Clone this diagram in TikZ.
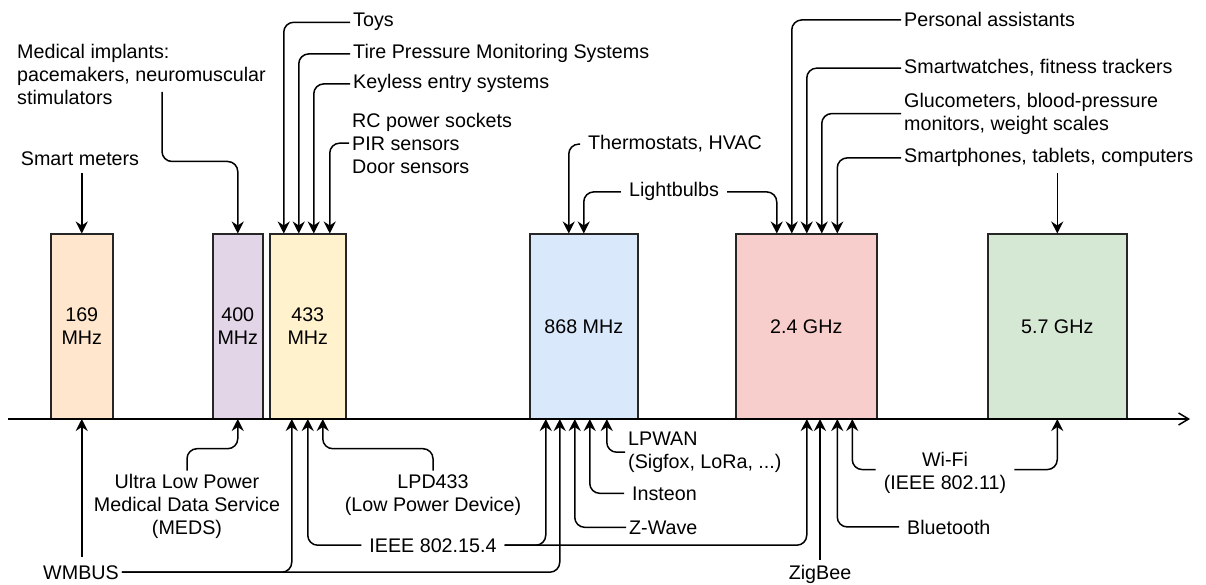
\documentclass[tikz,border=0pt]{standalone}
\usepackage{fontspec}
\setmainfont{Liberation Sans}
\usetikzlibrary{arrows.meta}
\definecolor{corange}{HTML}{FFE6CC}
\definecolor{cpurple}{HTML}{E1D5E7}
\definecolor{cyellow}{HTML}{FFF2CC}
\definecolor{cblue}{HTML}{DAE8FC}
\definecolor{cred}{HTML}{F8CECC}
\definecolor{cgreen}{HTML}{D5E8D4}
\begin{document}
\begin{tikzpicture}[x=1pt,y=-1pt,
  every node/.style={font=\fontsize{19.7}{23}\selectfont},
  lbl/.style={inner xsep=3pt, inner ysep=0pt},
  lblw/.style={inner xsep=8pt, inner ysep=0pt},
  band/.style={draw=black!85, line width=1.5pt, align=center, inner sep=1pt, anchor=south west, minimum height=184pt},
  arr/.style={line width=1.5pt, rounded corners=10pt, -{Stealth[length=12pt,width=12pt,inset=4pt]}},
  axisline/.style={line width=1.5pt, -{Straight Barb[length=10pt,width=12pt]}}
]
\useasboundingbox (0,0) rectangle (1206,585);

% frequency bands
\node[band, fill=corange, minimum width=62pt]  (b169) at (50,419)  {169\\MHz};
\node[band, fill=cpurple, minimum width=50pt]  (b400) at (212,419) {400\\MHz};
\node[band, fill=cyellow, minimum width=76pt]  (b433) at (269,419) {433\\MHz};
\node[band, fill=cblue,   minimum width=108pt] (b868) at (529,419) {868 MHz};
\node[band, fill=cred,    minimum width=141pt] (b24)  at (735,419) {2.4 GHz};
\node[band, fill=cgreen,  minimum width=139pt] (b57)  at (987,419) {5.7 GHz};

% axis
\coordinate (axL) at (8,419);
\coordinate (axR) at (1190,419);
\draw[axisline] (axL) -- (axR);

% top labels
\node[lbl, anchor=base, inner ysep=7pt] (sm) at (80,166) {Smart meters};
\node[lbl, anchor=north west, align=left] (med) at (14,43.7) {Medical implants:\\pacemakers, neuromuscular\\stimulators};
\coordinate (medout) at (162,92);
\node[lbl, anchor=base west] (toys) at (350,27) {Toys};
\node[lbl, anchor=base west] (tpms) at (350,59) {Tire Pressure Monitoring Systems};
\node[lbl, anchor=base west] (key) at (350,89) {Keyless entry systems};
\node[lbl, anchor=north west, align=left] (rc) at (349,112.7) {RC power sockets\\PIR sensors\\Door sensors};
\node[lblw, anchor=base west] (th) at (580,150) {Thermostats, HVAC};
\node[lblw, anchor=base] (lb) at (674,197) {Lightbulbs};
\node[lbl, anchor=base west] (pa) at (901,27) {Personal assistants};
\node[lbl, anchor=base west] (sw) at (901,74) {Smartwatches, fitness trackers};
\node[lbl, anchor=north west, align=left] (gl) at (901,92.7) {Glucometers, blood-pressure\\monitors, weight scales};
\node[lbl, anchor=base west, inner ysep=6pt] (sp) at (901,163) {Smartphones, tablets, computers};

% bottom labels
\node[lbl, anchor=north, align=center, inner ysep=3pt] (meds) at (187,470.7) {Ultra Low Power\\Medical Data Service\\(MEDS)};
\node[lbl, anchor=north, align=center, inner ysep=4pt] (lpd) at (433,470.7) {LPD433\\(Low Power Device)};
\node[lblw, anchor=base] (ieee) at (433,552) {IEEE 802.15.4};
\node[lbl, anchor=base, inner ysep=8pt] (wm) at (81,579) {WMBUS};
\node[lbl, anchor=north west, align=left] (lpwan) at (625,431.7) {LPWAN\\(Sigfox, LoRa, ...)};
\node[lblw, anchor=base west] (ins) at (624,500) {Insteon};
\node[lbl, anchor=base west] (zw) at (626,534) {Z-Wave};
\node[lbl, anchor=base, inner ysep=4.6pt] (zb) at (820,579) {ZigBee};
\node[lblw, anchor=base west] (bt) at (899,534) {Bluetooth};
\node[lblw, anchor=north, align=center] (wifi) at (945,451.7) {Wi-Fi\\(IEEE 802.11)};

% top connectors
\draw[arr] (sm.south -| b169.north) -- (b169.north);
\draw[arr] (medout) |- ([yshift=72pt]b400.north) -- (b400.north);
\draw[arr] (toys.west) -| ([xshift=-24pt]b433.north);
\draw[arr] (tpms.west) -| ([xshift=-9pt]b433.north);
\draw[arr] (key.west) -| ([xshift=6pt]b433.north);
\draw[arr] (rc.west) -| ([xshift=22pt]b433.north);
\draw[arr] (th.west) -| ([xshift=-15pt]b868.north);
\draw[arr] (lb.west) -| (b868.north);
\draw[arr] (lb.east) -| ([xshift=-29.5pt]b24.north);
\draw[arr] (pa.west) -| ([xshift=-14.5pt]b24.north);
\draw[arr] (sw.west) -| ([xshift=0.5pt]b24.north);
\draw[arr] (gl.west) -| ([xshift=15.5pt]b24.north);
\draw[arr] (sp.west) -| ([xshift=31pt]b24.north);
\draw[arr] (sp.south -| b57.north) -- (b57.north);

% bottom connectors
\draw[arr] (b169.south |- wm.north) -- (b169.south);
\draw[arr] (wm.east) -| ([xshift=-16pt]b433.south);
\draw[arr] (wm.east) -| ([xshift=-24pt]b868.south);
\draw[arr] (ieee.west) -| (b433.south);
\draw[arr] (ieee.east) -| ([xshift=-38pt]b868.south);
\draw[arr] (ieee.east) -| ([xshift=0.5pt]b24.south);
\draw[arr] (lpd.north) -- ++(0,-22) -| ([xshift=15pt]b433.south);
\draw[arr] (meds.north) -- ++(0,-22) -| (b400.south);
\draw[arr] (lpwan.west) -| ([xshift=23pt]b868.south);
\draw[arr] (ins.west) -| ([xshift=6pt]b868.south);
\draw[arr] (zw.west) -| ([xshift=-9pt]b868.south);
\draw[arr] (zb.north) -- (zb.north |- b24.south);
\draw[arr] (bt.west) -| ([xshift=31pt]b24.south);
\draw[arr] ([yshift=3pt]wifi.west) -| ([xshift=46pt]b24.south);
\draw[arr] ([yshift=3pt]wifi.east) -| (b57.south);
\end{tikzpicture}
\end{document}
